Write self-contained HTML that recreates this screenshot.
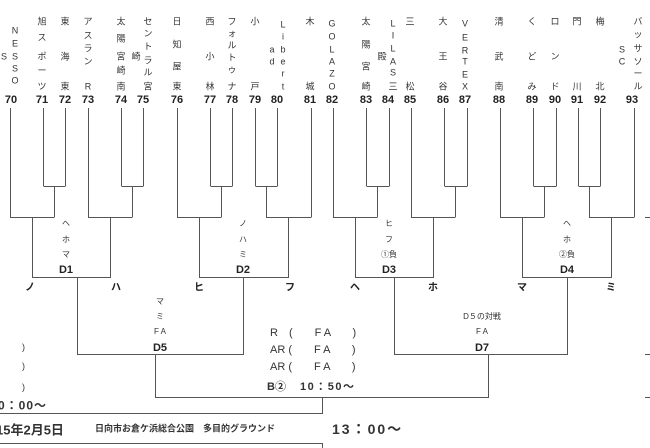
<!DOCTYPE html>
<html><head><meta charset="utf-8"><style>
body{margin:0;background:#fff;}
#w{position:relative;width:650px;height:448px;overflow:hidden;background:#fff;font-family:"Liberation Sans","Noto Sans CJK JP",sans-serif;color:#333;}
.c{position:absolute;font-size:9px;line-height:1;transform:translate(-50%,-50%);white-space:nowrap;}
.n{position:absolute;font-size:11px;font-weight:bold;transform:translate(-50%,-50%);color:#222;}
.b{position:absolute;font-weight:bold;transform:translate(-50%,-50%);white-space:nowrap;color:#222;}
.t{position:absolute;transform:translateY(-50%);white-space:nowrap;}
svg{position:absolute;left:0;top:0;}
</style></head><body><div id="w">
<svg width="650" height="448" fill="none" stroke="#555" stroke-width="1">
<path d="M10.5 108V217M43.5 108V186M65.5 108V186M88.5 108V217M121.5 108V186M143.5 108V186M177.5 108V217M210.5 108V186M232.5 108V186M255.5 108V186M277.5 108V186M311.5 108V217M333.5 108V217M366.5 108V186M389.5 108V186M411.5 108V217M444.5 108V186M467.5 108V186M500.5 108V217M533.5 108V186M556.5 108V186M578.5 108V186M600.5 108V186M634.5 108V217"/>
<path d="M43.5 186.5H65.5M121.5 186.5H143.5M210.5 186.5H232.5M255.5 186.5H277.5M366.5 186.5H389.5M444.5 186.5H467.5M533.5 186.5H556.5M578.5 186.5H600.5"/>
<path d="M54.5 186V217M132.5 186V217M221.5 186V217M266.5 186V217M377.5 186V217M455.5 186V217M544.5 186V217M589.5 186V217"/>
<path d="M10 217.5H54.5M88 217.5H132.5M177 217.5H221.5M266 217.5H311.5M333 217.5H377.5M411 217.5H455.5M500 217.5H544.5M589 217.5H634.5M645 217.5H650"/>
<path d="M32.5 217V277.5H110.5V217M199.5 217V277.5H288.5V217M355.5 217V277.5H433.5V217M522.5 217V277.5H611.5V217"/>
<path d="M77.5 277V354.5H243.5V277M394.5 277V354.5H567.5V277"/>
<path d="M155.5 354V397.5H488.5V354M322.5 397V413.5H0M645 354.5H650M645 397.5H650M0 443.5H322.5V448"/>
</svg>
<span class="c" style="left:4px;top:57px">S</span>
<span class="c" style="left:15px;top:31px">N</span><span class="c" style="left:15px;top:44px">E</span><span class="c" style="left:15px;top:57px">S</span><span class="c" style="left:15px;top:69px">S</span><span class="c" style="left:15px;top:81px">O</span>
<span class="c" style="left:42px;top:22px">旭</span><span class="c" style="left:42px;top:38px">ス</span><span class="c" style="left:42px;top:57px">ポ</span><span class="c" style="left:42px;top:71px">ー</span><span class="c" style="left:42px;top:87px">ツ</span>
<span class="c" style="left:65px;top:22px">東</span><span class="c" style="left:65px;top:57px">海</span><span class="c" style="left:65px;top:87px">東</span>
<span class="c" style="left:88px;top:22px">ア</span><span class="c" style="left:88px;top:36px">ス</span><span class="c" style="left:88px;top:49px">ラ</span><span class="c" style="left:88px;top:62px">ン</span><span class="c" style="left:88px;top:87px">R</span>
<span class="c" style="left:121px;top:22px">太</span><span class="c" style="left:121px;top:39px">陽</span><span class="c" style="left:121px;top:57px">宮</span><span class="c" style="left:121px;top:71px">崎</span><span class="c" style="left:121px;top:87px">南</span>
<span class="c" style="left:136px;top:57px">崎</span>
<span class="c" style="left:148px;top:22px">セ</span><span class="c" style="left:148px;top:34px">ン</span><span class="c" style="left:148px;top:47px">ト</span><span class="c" style="left:148px;top:61px">ラ</span><span class="c" style="left:148px;top:73px">ル</span><span class="c" style="left:148px;top:87px">宮</span>
<span class="c" style="left:177px;top:22px">日</span><span class="c" style="left:177px;top:45px">知</span><span class="c" style="left:177px;top:67px">屋</span><span class="c" style="left:177px;top:87px">東</span>
<span class="c" style="left:210px;top:22px">西</span><span class="c" style="left:210px;top:57px">小</span><span class="c" style="left:210px;top:87px">林</span>
<span class="c" style="left:232px;top:22px">フ</span><span class="c" style="left:232px;top:34px">ォ</span><span class="c" style="left:232px;top:46px">ル</span><span class="c" style="left:232px;top:58px">ト</span><span class="c" style="left:232px;top:70px">ゥ</span><span class="c" style="left:232px;top:87px">ナ</span>
<span class="c" style="left:255px;top:22px">小</span><span class="c" style="left:255px;top:87px">戸</span>
<span class="c" style="left:272px;top:50px">a</span><span class="c" style="left:272px;top:62px">d</span>
<span class="c" style="left:283px;top:25px">L</span><span class="c" style="left:283px;top:37px">i</span><span class="c" style="left:283px;top:50px">b</span><span class="c" style="left:283px;top:62px">e</span><span class="c" style="left:283px;top:74px">r</span><span class="c" style="left:283px;top:87px">t</span>
<span class="c" style="left:310px;top:22px">木</span><span class="c" style="left:310px;top:87px">城</span>
<span class="c" style="left:332px;top:24px">G</span><span class="c" style="left:332px;top:37px">O</span><span class="c" style="left:332px;top:50px">L</span><span class="c" style="left:332px;top:62px">A</span><span class="c" style="left:332px;top:74px">Z</span><span class="c" style="left:332px;top:87px">O</span>
<span class="c" style="left:366px;top:22px">太</span><span class="c" style="left:366px;top:45px">陽</span><span class="c" style="left:366px;top:67px">宮</span><span class="c" style="left:366px;top:87px">崎</span>
<span class="c" style="left:382px;top:57px">殿</span>
<span class="c" style="left:393px;top:24px">L</span><span class="c" style="left:393px;top:36px">I</span><span class="c" style="left:393px;top:49px">L</span><span class="c" style="left:393px;top:62px">A</span><span class="c" style="left:393px;top:73px">S</span><span class="c" style="left:393px;top:87px">三</span>
<span class="c" style="left:410px;top:22px">三</span><span class="c" style="left:410px;top:87px">松</span>
<span class="c" style="left:443px;top:22px">大</span><span class="c" style="left:443px;top:57px">王</span><span class="c" style="left:443px;top:87px">谷</span>
<span class="c" style="left:465px;top:24px">V</span><span class="c" style="left:465px;top:38px">E</span><span class="c" style="left:465px;top:51px">R</span><span class="c" style="left:465px;top:62px">T</span><span class="c" style="left:465px;top:75px">E</span><span class="c" style="left:465px;top:87px">X</span>
<span class="c" style="left:499px;top:22px">清</span><span class="c" style="left:499px;top:57px">武</span><span class="c" style="left:499px;top:87px">南</span>
<span class="c" style="left:532px;top:22px">く</span><span class="c" style="left:532px;top:57px">ど</span><span class="c" style="left:532px;top:87px">み</span>
<span class="c" style="left:555px;top:22px">ロ</span><span class="c" style="left:555px;top:57px">ン</span><span class="c" style="left:555px;top:87px">ド</span>
<span class="c" style="left:577px;top:22px">門</span><span class="c" style="left:577px;top:87px">川</span>
<span class="c" style="left:600px;top:22px">梅</span><span class="c" style="left:600px;top:87px">北</span>
<span class="c" style="left:622px;top:50px">S</span><span class="c" style="left:622px;top:62px">C</span>
<span class="c" style="left:638px;top:22px">バ</span><span class="c" style="left:638px;top:35px">ッ</span><span class="c" style="left:638px;top:49px">サ</span><span class="c" style="left:638px;top:62px">ソ</span><span class="c" style="left:638px;top:74px">ー</span><span class="c" style="left:638px;top:87px">ル</span>
<span class="n" style="left:11px;top:100px">70</span><span class="n" style="left:42px;top:100px">71</span><span class="n" style="left:65px;top:100px">72</span><span class="n" style="left:88px;top:100px">73</span><span class="n" style="left:121px;top:100px">74</span><span class="n" style="left:143px;top:100px">75</span><span class="n" style="left:177px;top:100px">76</span><span class="n" style="left:210px;top:100px">77</span><span class="n" style="left:232px;top:100px">78</span><span class="n" style="left:255px;top:100px">79</span><span class="n" style="left:277px;top:100px">80</span><span class="n" style="left:310px;top:100px">81</span><span class="n" style="left:332px;top:100px">82</span><span class="n" style="left:366px;top:100px">83</span><span class="n" style="left:388px;top:100px">84</span><span class="n" style="left:410px;top:100px">85</span><span class="n" style="left:443px;top:100px">86</span><span class="n" style="left:465px;top:100px">87</span><span class="n" style="left:499px;top:100px">88</span><span class="n" style="left:532px;top:100px">89</span><span class="n" style="left:555px;top:100px">90</span><span class="n" style="left:577px;top:100px">91</span><span class="n" style="left:600px;top:100px">92</span><span class="n" style="left:632px;top:100px">93</span>
<span class="c" style="left:66px;top:224px;font-size:8px">ヘ</span><span class="c" style="left:66px;top:240px;font-size:8px">ホ</span><span class="c" style="left:66px;top:255px;font-size:8px">マ</span><span class="b" style="left:66px;top:270px;font-size:11px">D1</span>
<span class="c" style="left:243px;top:224px;font-size:8px">ノ</span><span class="c" style="left:243px;top:240px;font-size:8px">ハ</span><span class="c" style="left:243px;top:255px;font-size:8px">ミ</span><span class="b" style="left:243px;top:270px;font-size:11px">D2</span>
<span class="c" style="left:389px;top:224px;font-size:8px">ヒ</span><span class="c" style="left:389px;top:240px;font-size:8px">フ</span><span class="c" style="left:389px;top:255px;font-size:8px">①負</span><span class="b" style="left:389px;top:270px;font-size:11px">D3</span>
<span class="c" style="left:567px;top:224px;font-size:8px">ヘ</span><span class="c" style="left:567px;top:240px;font-size:8px">ホ</span><span class="c" style="left:567px;top:255px;font-size:8px">②負</span><span class="b" style="left:567px;top:270px;font-size:11px">D4</span>
<span class="b" style="left:30px;top:286px;font-size:10px">ノ</span><span class="b" style="left:116px;top:286px;font-size:10px">ハ</span><span class="b" style="left:199px;top:286px;font-size:10px">ヒ</span><span class="b" style="left:290px;top:286px;font-size:10px">フ</span><span class="b" style="left:355px;top:286px;font-size:10px">ヘ</span><span class="b" style="left:433px;top:286px;font-size:10px">ホ</span><span class="b" style="left:522px;top:286px;font-size:10px">マ</span><span class="b" style="left:611px;top:286px;font-size:10px">ミ</span>
<span class="c" style="left:160px;top:302px;font-size:8px">マ</span><span class="c" style="left:160px;top:317px;font-size:8px">ミ</span><span class="c" style="left:160px;top:332px;font-size:8px">F A</span><span class="b" style="left:160px;top:348px;font-size:11px">D5</span>
<span class="c" style="left:482px;top:317px;font-size:8px">D５の対戦</span><span class="c" style="left:482px;top:332px;font-size:8px">F A</span><span class="b" style="left:482px;top:348px;font-size:11px">D7</span>
<span class="t" style="left:270px;top:332px;font-size:11px">R　(　　F A　　)</span>
<span class="t" style="left:270px;top:349px;font-size:11px">AR (　　F A　　)</span>
<span class="t" style="left:270px;top:366px;font-size:11px">AR (　　F A　　)</span>
<span class="t" style="left:267px;top:386px;font-size:11px;font-weight:bold">B②　 <span style="letter-spacing:1.5px">10：50～</span></span>
<span class="t" style="left:22px;top:347px;font-size:9px">)</span><span class="t" style="left:22px;top:366px;font-size:9px">)</span><span class="t" style="left:22px;top:387px;font-size:9px">)</span>
<span class="t" style="left:-2px;top:405px;font-size:12px;font-weight:bold;letter-spacing:1px">0：00～</span>
<span class="t" style="left:-4px;top:429px;font-size:13px;font-weight:bold">15年2月5日</span>
<span class="t" style="left:95px;top:428px;font-size:9px;font-weight:bold">日向市お倉ケ浜総合公園　多目的グラウンド</span>
<span class="t" style="left:332px;top:429px;font-size:14px;font-weight:bold;letter-spacing:2px">13：00～</span>
<span class="t" style="left:-2px;top:452px;font-size:12px;font-weight:bold">0：00</span>
</div></body></html>
